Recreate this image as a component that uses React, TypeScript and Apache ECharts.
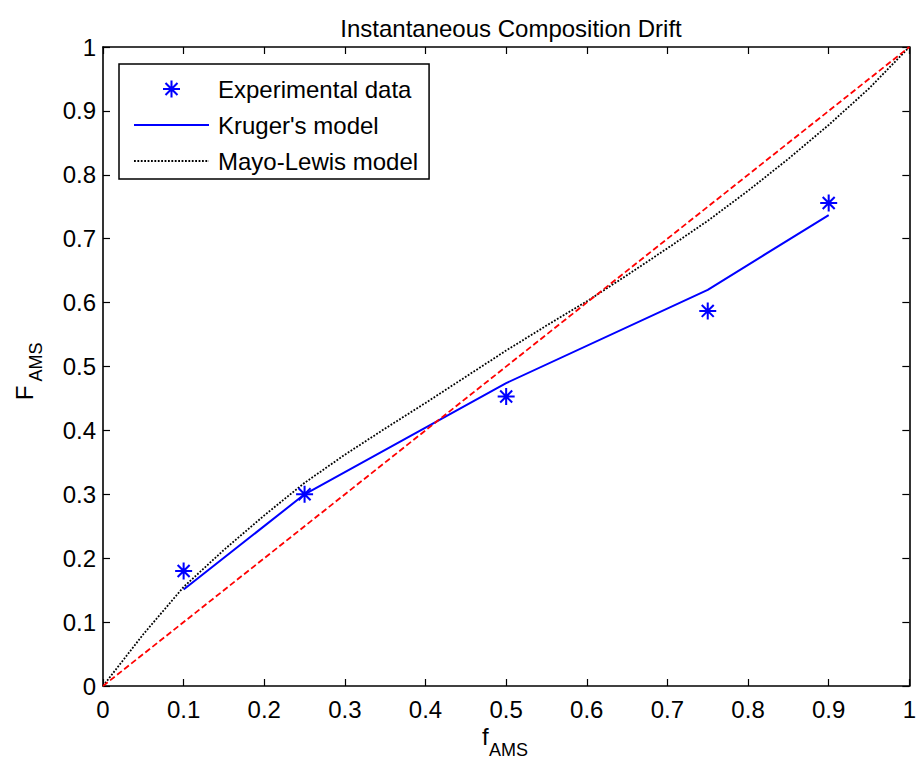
import React, { useEffect, useRef } from "react";
import * as echarts from "echarts";

const TITLE = "Instantaneous Composition Drift";
const xTicks = { min: 0, max: 1, interval: 0.1 };
const yTicks = { min: 0, max: 1, interval: 0.1 };

// Experimental data
const expF_f = [0.1, 0.25, 0.5, 0.75, 0.9];
const expF_F = [0.18, 0.3, 0.453, 0.587, 0.756];

// Kruger's model
const krugerF_f = [0.1, 0.25, 0.5, 0.75, 0.9];
const krugerF_F = [0.151, 0.3, 0.474, 0.62, 0.737];

// Mayo-Lewis model
const mayoF_f = [0, 0.05, 0.1, 0.15, 0.2, 0.25, 0.3, 0.35, 0.4, 0.45, 0.5, 0.55, 0.6, 0.65, 0.7, 0.75, 0.8, 0.85, 0.9, 0.95, 1];
const mayoF_F = [0, 0.081, 0.155, 0.213, 0.267, 0.318, 0.362, 0.403, 0.443, 0.484, 0.525, 0.564, 0.602, 0.643, 0.685, 0.728, 0.775, 0.825, 0.878, 0.935, 1];

// Diagonal F = f
const diag_f = [0, 1];
const diag_F = [0, 1];

const seriesNames = ["Experimental data", "Kruger's model", "Mayo-Lewis model"];

const ASTERISK =
  "path://M-1.2,-10L1.2,-10L1.2,10L-1.2,10Z" +
  "M-10,-1.2L10,-1.2L10,1.2L-10,1.2Z" +
  "M-6.2,-7.9L7.9,6.2L6.2,7.9L-7.9,-6.2Z" +
  "M6.2,-7.9L7.9,-6.2L-6.2,7.9L-7.9,6.2Z";

const FONT = "'Liberation Sans', Arial, Helvetica, sans-serif";

const zip = (a: number[], b: number[]) => a.map((v, i) => [v, b[i]]);

export default function App() {
  const ref = useRef<HTMLDivElement>(null);
  useEffect(() => {
    if (!ref.current) return;
    const chart = echarts.init(ref.current, null, { renderer: "svg" });
    const axisCommon = {
      type: "value" as const,
      axisLine: { show: true, onZero: false, lineStyle: { color: "#000", width: 1.6 } },
      axisTick: { show: true, inside: true, length: 7, lineStyle: { color: "#000", width: 1.2 } },
      splitLine: { show: false },
    };
    chart.setOption({
      animation: false,
      backgroundColor: "#fff",
      title: {
        text: TITLE,
        left: 506,
        top: 11,
        textAlign: "center",
        textStyle: { fontFamily: FONT, fontSize: 24, fontWeight: "normal", color: "#000" },
      },
      grid: { left: 103, top: 47, width: 807, height: 639, containLabel: false },
      xAxis: [
        {
          ...axisCommon,
          position: "bottom",
          ...xTicks,
          axisLabel: { show: true, margin: 11, color: "#000", fontFamily: FONT, fontSize: 24 },
        },
        {
          ...axisCommon,
          position: "top",
          ...xTicks,
          axisLabel: { show: false },
        },
      ],
      yAxis: [
        {
          ...axisCommon,
          position: "left",
          ...yTicks,
          axisLabel: { show: true, margin: 7, color: "#000", fontFamily: FONT, fontSize: 24 },
        },
        {
          ...axisCommon,
          position: "right",
          ...yTicks,
          axisLabel: { show: false },
        },
      ],
      legend: {
        data: [
          { name: seriesNames[0] },
          { name: seriesNames[1], itemStyle: { opacity: 0 } },
          { name: seriesNames[2], itemStyle: { opacity: 0 } },
        ],
        orient: "vertical",
        left: 119,
        top: 64,
        padding: [13, 11, 6, 14],
        itemWidth: 75,
        itemHeight: 17,
        itemGap: 12,
        borderColor: "#000",
        borderWidth: 1.5,
        backgroundColor: "#fff",
        selectedMode: false,
        textStyle: { fontFamily: FONT, fontSize: 24, color: "#000", lineHeight: 24, padding: [0, 0, 0, 4] },
      },
      graphic: [
        { type: "text", left: 482, top: 724, style: { text: "f", font: `24px ${FONT}`, fill: "#000" } },
        { type: "text", left: 489, top: 741, style: { text: "AMS", font: `18px ${FONT}`, fill: "#000" } },
        {
          type: "text",
          x: 24,
          y: 393,
          rotation: Math.PI / 2,
          style: { text: "F", font: `24px ${FONT}`, fill: "#000", align: "center", verticalAlign: "middle" },
        },
        {
          type: "text",
          x: 36,
          y: 362,
          rotation: Math.PI / 2,
          style: { text: "AMS", font: `18px ${FONT}`, fill: "#000", align: "center", verticalAlign: "middle" },
        },
      ],
      series: [
        {
          name: seriesNames[0],
          type: "scatter",
          data: zip(expF_f, expF_F),
          symbol: ASTERISK,
          symbolSize: 17,
          itemStyle: { color: "#0000ff", opacity: 1 },
          z: 4,
        },
        {
          name: seriesNames[1],
          type: "line",
          data: zip(krugerF_f, krugerF_F),
          symbol: "none",
          lineStyle: { color: "#0000ff", width: 2, type: "solid" },
          itemStyle: { color: "#0000ff" },
          z: 3,
        },
        {
          name: seriesNames[2],
          type: "line",
          data: zip(mayoF_f, mayoF_F),
          symbol: "none",
          smooth: false,
          lineStyle: { color: "#000", width: 1.8, type: [1.8, 1.6] },
          itemStyle: { color: "#000" },
          z: 3,
        },
        {
          name: "diagonal",
          type: "line",
          data: zip(diag_f, diag_F),
          symbol: "none",
          lineStyle: { color: "#ff0000", width: 1.8, type: [6, 3] },
          itemStyle: { color: "#ff0000" },
          z: 3,
        },
      ],
    });
    return () => chart.dispose();
  }, []);
  return <div ref={ref} style={{ width: 919, height: 763, position: "absolute", left: 0, top: 0 }} />;
}
